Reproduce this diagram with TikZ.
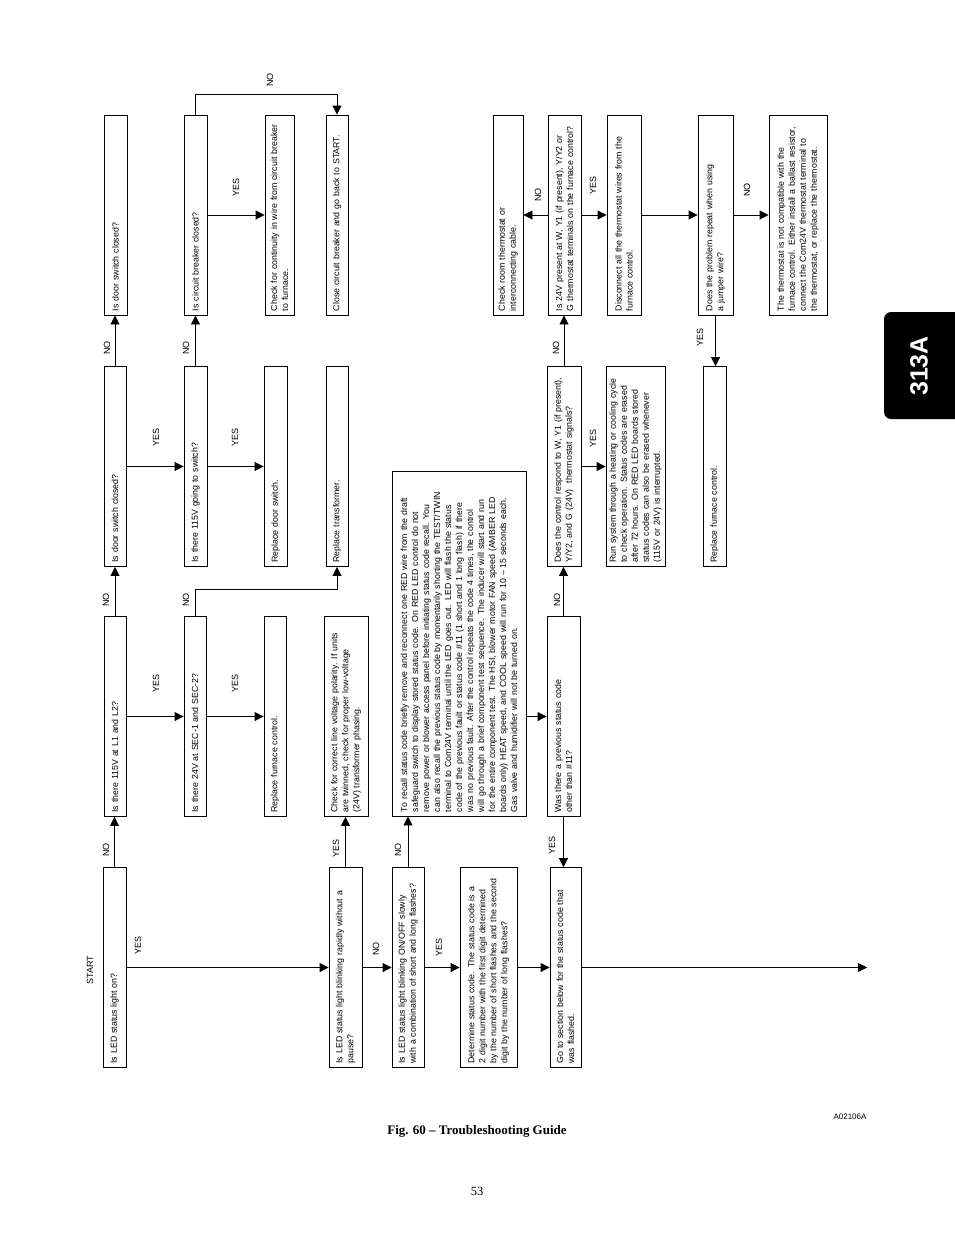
\documentclass[tikz,border=0pt]{standalone}
\usepackage{fontspec}
\setmainfont{Liberation Sans}
\newfontfamily\capserif{Liberation Serif}
\usetikzlibrary{arrows.meta}
\begin{document}
\begin{tikzpicture}[x=1pt,y=1pt,
  bx/.style={draw, line width=0.9pt, rotate=90, inner xsep=4pt, inner ysep=2pt, align=left,
    font=\fontsize{8.8}{11}\selectfont},
  rowbox/.style={bx, minimum width=199pt, text width=192pt},
  lbl/.style={rotate=90, font=\fontsize{9}{11}\selectfont, inner sep=0pt},
  arr/.style={line width=0.9pt, -{Triangle[length=9pt,width=9pt]}},
  ln/.style={line width=0.9pt}]
\useasboundingbox (0,0) rectangle (954,-1235);

% column 1
\node[rowbox, minimum height=23pt] (A) at (114.5,-967.5) {Is LED status light on?};
\node[rowbox, minimum height=22pt] (B) at (115,-716.5) {Is there 115V at L1 and L2?};
\node[rowbox, minimum height=22pt] (C) at (115,-466.5) {Is door switch closed?};
\node[rowbox, minimum height=23pt] (D) at (115.5,-215) {Is door switch closed?};
% column 2
\node[rowbox, minimum height=22pt] (E) at (195,-716.5) {Is there 24V at SEC-1 and SEC-2?};
\node[rowbox, minimum height=23pt] (F) at (195.5,-466.5) {Is there 115V going to switch?};
\node[rowbox, minimum height=23pt] (G) at (195.5,-215) {Is circuit breaker closed?};
% column 3
\node[rowbox, minimum height=22pt] (H) at (275,-716.5) {Replace furnace control.};
\node[rowbox, minimum height=23pt] (I) at (275.5,-466.5) {Replace door switch.};
\node[rowbox, minimum height=29pt] (J) at (279.5,-215) {Check for continuity in wire from circuit breaker\\to furnace.};
% column 4
\node[rowbox, minimum height=44pt] (K) at (346,-716.5) {Check for correct line voltage polarity.  If units\\are twinned, check for proper low-voltage\\(24V) transformer phasing.};
\node[rowbox, minimum height=22pt] (L) at (337,-466.5) {Replace transformer.};
\node[rowbox, minimum height=22pt] (M) at (337,-215) {Close circuit breaker and go back to START.};
% lower row
\node[rowbox, minimum height=33pt] (N) at (345.5,-967.5) {Is LED status light blinking rapidly without a\\pause?};
\node[rowbox, minimum height=32pt] (O) at (408,-967.5) {Is LED status light blinking ON/OFF slowly\\with a combination of short and long flashes?};
\node[rowbox, minimum height=57pt] (Q) at (488.5,-967.5) {Determine status code.  The status code is a\\2 digit number with the first digit determined\\by the number of short flashes and the second\\digit by the number of long flashes?};
\node[rowbox, minimum height=31pt] (R) at (565.5,-967.5) {Go to section below for the status code that\\was flashed.};
% big text box
\node[bx, minimum width=345pt, text width=337pt, minimum height=134pt] (P) at (459,-643.5) {To recall status code briefly remove and reconnect one RED wire from the draft\\safeguard switch to display stored status code.  On RED LED control do not\\remove power or blower access panel before initiating status code recall.  You\\can also recall the previous status code by momentarily shorting the TEST/TWIN\\terminal to Com24V terminal until the LED goes out.  LED will flash the status\\code of the previous fault or status code \#11 (1 short and 1 long flash) if there\\was no previous fault.  After the control repeats the code 4 times, the control\\will go through a brief component test sequence.  The inducer will start and run\\for the entire component test.  The HSI, blower motor FAN speed (AMBER LED\\boards only) HEAT speed, and COOL speed will run for 10 -- 15 seconds each.\\Gas valve and humidifier will not be turned on.};
% right part
\node[rowbox, minimum height=33pt] (S) at (563.5,-716.5) {Was there a previous status code\\other than \#11?};
\node[rowbox, minimum height=34pt] (T) at (564,-466.5) {Does the control respond to W, Y1 (if present),\\Y/Y2, and G (24V)~~thermostat signals?};
\node[rowbox, minimum height=59pt] (U) at (635.5,-466.5) {Run system through a heating or cooling cycle\\to check operation.  Status codes are erased\\after 72 hours.  On RED LED boards stored\\status codes can also be erased whenever\\(115V or 24V) is interrupted.};
\node[rowbox, minimum height=33pt] (V) at (564.5,-215) {Is 24V present at W, Y1 (if present), Y/Y2 or\\G thermostat terminals on the furnace control?};
\node[rowbox, minimum height=30pt] (W) at (508,-215) {Check room thermostat or\\interconnecting cable.};
\node[rowbox, minimum height=34pt] (X) at (624,-215) {Disconnect all the thermostat wires from the\\furnace control.};
\node[rowbox, minimum height=35pt] (Y) at (715.5,-215) {Does the problem repeat when using\\a jumper wire?};
\node[rowbox, minimum height=58pt] (Z) at (798,-215) {The thermostat is not compatible with the\\furnace control.  Either install a ballast resistor,\\connect the Com24V thermostat terminal to\\the thermostat, or replace the thermostat.};
\node[rowbox, minimum height=23pt] (AA) at (714.5,-466.5) {Replace furnace control.};

\coordinate (endarr) at (867,-967.5);

% connectors
\draw[arr] (A.east) -- (A.east |- B.west);
\draw[arr] (B.east) -- (B.east |- C.west);
\draw[arr] (C.east) -- (C.east |- D.west);
\draw[arr] (A.south) -- (A.south -| N.north);
\draw[arr] (B.south) -- (B.south -| E.north);
\draw[arr] (C.south) -- (C.south -| F.north);
\draw[arr] (E.south) -- (E.south -| H.north);
\draw[arr] (F.south) -- (F.south -| I.north);
\draw[arr] (F.east) -- (F.east |- G.west);
\draw[arr] (G.south) -- (G.south -| J.north);
\draw[arr] (G.east) -- ++(0,20) -| (M.east);
\draw[arr] (E.east) -- ++(0,27) -| (L.west);
\draw[arr] (N.east) -- (N.east |- K.west);
\draw[arr] (N.south) -- (N.south -| O.north);
\draw[arr] (O.south) -- (O.south -| Q.north);
\draw[arr] (Q.south) -- (Q.south -| R.north);
\draw[arr] (O.east) -- (O.east |- P.west);
\draw[arr] (P.south |- S.north) -- (S.north);
\draw[arr] (S.west) -- (S.west |- R.east);
\draw[arr] (S.east) -- (S.east |- T.west);
\draw[arr] (T.south) -- (T.south -| U.north);
\draw[arr] (T.east) -- (T.east |- V.west);
\draw[arr] (V.north) -- (V.north -| W.south);
\draw[arr] (V.south) -- (V.south -| X.north);
\draw[arr] (X.south) -- (X.south -| Y.north);
\draw[arr] (Y.south) -- (Y.south -| Z.north);
\draw[arr] (Y.west) -- (Y.west |- AA.east);
\draw[arr] (R.south) -- (endarr);

% labels
\node[lbl] (lstart) at (90,-970) {START};
\node[lbl] (l1) at (138,-945) {YES};
\node[lbl] (l2) at (376,-949) {NO};
\node[lbl] (l3) at (439,-947) {YES};
\node[lbl] (l4) at (106,-850) {NO};
\node[lbl] (l5) at (336,-848) {YES};
\node[lbl] (l6) at (398,-850) {NO};
\node[lbl] (l7) at (156,-683) {YES};
\node[lbl] (l8) at (235,-683) {YES};
\node[lbl] (l9) at (106,-600) {NO};
\node[lbl] (l10) at (186,-600) {NO};
\node[lbl] (l11) at (156,-437) {YES};
\node[lbl] (l12) at (235,-437) {YES};
\node[lbl] (l13) at (107,-348) {NO};
\node[lbl] (l14) at (186,-348) {NO};
\node[lbl] (l15) at (236,-187) {YES};
\node[lbl] (l16) at (270,-80) {NO};
\node[lbl] (l17) at (552,-845) {YES};
\node[lbl] (l18) at (557,-600) {NO};
\node[lbl] (l19) at (593,-438) {YES};
\node[lbl] (l20) at (556,-348) {NO};
\node[lbl] (l21) at (538,-195) {NO};
\node[lbl] (l22) at (593,-185) {YES};
\node[lbl] (l23) at (747,-190) {NO};
\node[lbl] (l24) at (700,-337) {YES};

% tab
\fill[black, rounded corners=7pt] (884,-312) rectangle (975,-419);
\node[rotate=90, text=white, font=\bfseries\fontsize{25}{25}\selectfont, inner sep=0pt] (tab) at (919,-366) {313A};

% captions
\node[font=\fontsize{8}{9}\selectfont, inner sep=0pt] (code) at (850,-1117) {A02106A};
\node[font=\capserif\bfseries\fontsize{13}{15}\selectfont, inner sep=0pt] (cap) at (477,-1131) {Fig. 60 – Troubleshooting Guide};
\node[font=\capserif\fontsize{12.5}{14}\selectfont, inner sep=0pt] (page) at (477,-1191) {53};
\end{tikzpicture}
\end{document}
